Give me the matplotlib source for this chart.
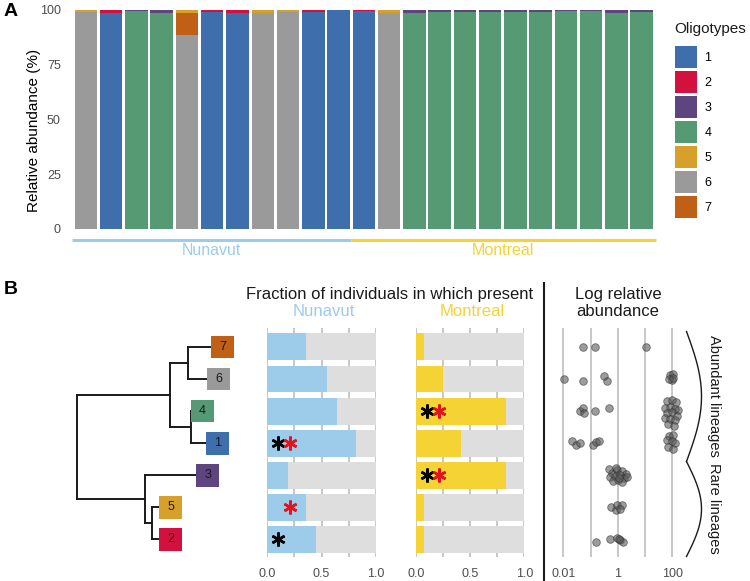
import matplotlib
matplotlib.use('Agg')
import matplotlib.pyplot as plt
from matplotlib.patches import Rectangle, Patch
import numpy as np

plt.rcParams['font.family'] = ['Liberation Sans', 'DejaVu Sans']

# ---- data: panel A, relative abundance (%) of each oligotype per individual
sites = ['Nunavut'] * 11 + ['Montreal'] * 12
o1 = [0, 98.5, 0, 0, 0, 99.2, 98.5, 0, 0, 99.0, 99.8, 99.5, 0, 0, 0, 0, 0, 0, 0, 0, 0, 0, 0]
o2 = [0, 1.5, 0, 0, 0, 0.8, 1.5, 0, 0, 1.0, 0, 0.5, 0, 0, 0, 0, 0, 0, 0, 0, 0, 0, 0]
o3 = [0, 0, 0.5, 1.2, 0, 0, 0, 0, 0, 0, 0.2, 0, 0, 1.5, 0.7, 0.7, 0.7, 0.7, 0.8, 0.6, 0.3, 1.5, 1.0]
o4 = [0, 0, 99.5, 98.8, 0, 0, 0, 0, 0, 0, 0, 0, 0, 98.5, 99.3, 99.3, 99.3, 99.3, 99.2, 99.4, 99.7, 98.5, 99.0]
o5 = [1.0, 0, 0, 0, 1.2, 0, 0, 1.4, 0.8, 0, 0, 0, 1.2, 0, 0, 0, 0, 0, 0, 0, 0, 0, 0]
o6 = [99.0, 0, 0, 0, 88.7, 0, 0, 98.6, 99.2, 0, 0, 0, 98.8, 0, 0, 0, 0, 0, 0, 0, 0, 0, 0]
o7 = [0, 0, 0, 0, 10.1, 0, 0, 0, 0, 0, 0, 0, 0, 0, 0, 0, 0, 0, 0, 0, 0, 0, 0]
abund = {'1': o1, '2': o2, '3': o3, '4': o4, '5': o5, '6': o6, '7': o7}
stack_order = ['1', '4', '6', '7', '3', '2', '5']
oligo_labels = ['1', '2', '3', '4', '5', '6', '7']
oligo_colors = {'1': '#3F6EAD', '2': '#D2113F', '3': '#5F4580', '4': '#569A74',
                '5': '#D6A02A', '6': '#9A9A9A', '7': '#C05F16'}
site_colors = {'Nunavut': '#9DCBEA', 'Montreal': '#F5D335'}

# ---- data: panel B
leaf_order = ['7', '6', '4', '1', '3', '5', '2']
leaf_depth = [134, 130, 114, 129, 119, 82, 82]
# internal nodes: (name, depth, children)
tree_nodes = [('n76', 111, ['7', '6']),
              ('n41', 114, ['4', '1']),
              ('up', 93, ['n76', 'n41']),
              ('n52', 75, ['5', '2']),
              ('low', 68, ['3', 'n52']),
              ('root', 0, ['up', 'low'])]

frac_nunavut = [0.36, 0.55, 0.64, 0.82, 0.19, 0.36, 0.45]
frac_montreal = [0.08, 0.25, 0.83, 0.42, 0.83, 0.08, 0.08]
black_star_nunavut = [0, 0, 0, 1, 0, 0, 1]
red_star_nunavut = [0, 0, 0, 1, 0, 1, 0]
black_star_montreal = [0, 0, 1, 0, 1, 0, 0]
red_star_montreal = [0, 0, 1, 0, 1, 0, 0]

# log relative abundance (%) per individual, with the vertical jitter (rows)
abund_7 = [(0.054, 0), (0.145, 0), (10.5, 0)]
abund_6 = [(0.0107, 0), (0.051, 0.05), (0.30, -0.08), (0.39, 0.05),
           (82, -0.13), (109, -0.16), (95, 0.02), (78, 0.0), (109, -0.03)]
abund_4 = [(0.041, 0.0), (0.051, -0.1), (0.057, 0.07), (0.145, 0.0), (0.48, -0.1),
           (64, -0.30), (97, -0.36), (137, -0.27), (54, -0.11), (82, -0.14),
           (126, -0.08), (162, -0.02), (64, 0.07), (97, 0.04), (149, 0.14),
           (54, 0.23), (82, 0.26), (126, 0.29), (70, 0.41), (115, 0.45)]
abund_1 = [(0.021, -0.07), (0.029, 0.07), (0.041, -0.02), (0.126, 0.07), (0.159, -0.04),
           (0.20, -0.07), (76, -0.21), (106, -0.24), (64, -0.09), (97, -0.06),
           (126, 0.0), (70, 0.13), (106, 0.19)]
abund_3 = [(0.61, -0.07), (0.94, -0.16), (1.43, -0.13), (2.0, -0.04), (0.52, 0.06),
           (0.79, 0.02), (1.2, 0.0), (1.69, 0.09), (2.1, 0.06), (0.66, 0.18),
           (1.0, 0.15), (1.43, 0.21), (0.87, -0.22), (1.1, 0.09), (0.48, -0.19)]
abund_5 = [(0.56, 0.0), (0.85, 0.07), (0.96, -0.08), (1.48, -0.06), (1.2, 0.05)]
abund_2 = [(0.155, 0.08), (0.51, 0.0), (0.95, -0.05), (1.2, 0.03), (1.5, 0.08), (1.15, 0.0)]
abund_points = [abund_7, abund_6, abund_4, abund_1, abund_3, abund_5, abund_2]

W, H = 750, 581
fig = plt.figure(figsize=(7.5, 5.81), dpi=100)


def px_axes(left, top, right, bottom):
    return fig.add_axes([left / W, 1 - bottom / H, (right - left) / W, (bottom - top) / H])


def px_text(x, y, s, **kw):
    fig.text(x / W, 1 - y / H, s, **kw)


# ---------------- panel A
axA = px_axes(72, 10, 655.6, 228.7)
x = np.arange(len(sites))
bottom = np.zeros(len(sites))
for o in stack_order:
    vals = np.array(abund[o])
    axA.bar(x, vals, bottom=bottom, width=0.89, color=oligo_colors[o], linewidth=0)
    bottom += vals
axA.set_xlim(-0.55, len(sites) - 0.45)
axA.set_ylim(0, 100)
axA.set_yticks([0, 25, 50, 75, 100])
axA.tick_params(axis='y', length=0, pad=8, labelsize=9, labelcolor='#4D4D4D')
axA.set_xticks([])
for s in axA.spines.values():
    s.set_visible(False)
axA.set_ylabel('Relative abundance (%)', fontsize=11)
axA.yaxis.set_label_coords(-0.053, 0.45)

n_nun = sites.count('Nunavut')
seg = {'Nunavut': (-0.55, n_nun - 0.5), 'Montreal': (n_nun - 0.5, len(sites) - 0.45)}
for site, (a, b) in seg.items():
    axA.plot([a, b], [-5.0, -5.0], color=site_colors[site], lw=2.2, clip_on=False,
             solid_capstyle='butt')
    axA.text((a + b) / 2, -9.8, site, color=site_colors[site], fontsize=11.5,
             ha='center', va='center', clip_on=False)

handles = [Patch(facecolor=oligo_colors[o], edgecolor='none') for o in oligo_labels]
fig.legend(handles, oligo_labels, loc='upper left',
           bbox_to_anchor=(675 / W, 1 - 46 / H), frameon=False, fontsize=9,
           handlelength=1.76, handleheight=2.33,
           labelspacing=0.24, handletextpad=0.6, borderpad=0, borderaxespad=0)
px_text(674, 29, 'Oligotypes', fontsize=11, ha='left', va='center', color='#1a1a1a')

px_text(4, 11, 'A', fontsize=14, fontweight='bold', va='center')
px_text(4, 289, 'B', fontsize=14, fontweight='bold', va='center')

# ---------------- panel B: tree
n_rows = len(leaf_order)
ylim_rows = (n_rows - 0.45, -0.59)
axT = px_axes(60, 328, 250, 557)
axT.set_xlim(-17, 173)
axT.set_ylim(*ylim_rows)
axT.axis('off')
pos = {leaf: (d, i) for i, (leaf, d) in enumerate(zip(leaf_order, leaf_depth))}
for name, depth, children in tree_nodes:
    ys = [pos[c][1] for c in children]
    axT.plot([depth, depth], [min(ys), max(ys)], color='#1a1a1a', lw=1.4,
             solid_capstyle='projecting')
    for c in children:
        axT.plot([depth, pos[c][0]], [pos[c][1], pos[c][1]], color='#1a1a1a', lw=1.4,
                 solid_capstyle='projecting')
    pos[name] = (depth, np.mean(ys))
box_w, box_h = 23, 0.71
for leaf, d in zip(leaf_order, leaf_depth):
    y = pos[leaf][1]
    axT.add_patch(Rectangle((d, y - box_h / 2), box_w, box_h, facecolor=oligo_colors[leaf],
                            edgecolor='none', zorder=3))
    axT.text(d + box_w / 2, y, leaf, ha='center', va='center', fontsize=9,
             color='#1a1a1a', zorder=4)

# ---------------- panel B: fraction bars
rows = np.arange(n_rows)


def frac_panel(left, right, fracs, color, black, red):
    ax = px_axes(left, 328, right, 557)
    for g in [0, 0.25, 0.5, 0.75, 1.0]:
        ax.axvline(g, color='#BDBDBD', lw=1.2, zorder=0)
    ax.barh(rows, [1.0] * n_rows, height=0.84, color='#DEDEDE', zorder=1, linewidth=0)
    ax.barh(rows, fracs, height=0.84, color=color, zorder=2, linewidth=0)
    for r in rows:
        if black[r]:
            ax.plot(0.1, r, marker=(6, 2, 0), ms=10, mew=1.8, color='black', zorder=3)
        if red[r]:
            ax.plot(0.21, r, marker=(6, 2, 0), ms=10, mew=1.8, color='#E3141C', zorder=3)
    ax.set_xlim(0, 1)
    ax.set_ylim(*ylim_rows)
    ax.set_xticks([0, 0.5, 1.0])
    ax.set_xticklabels(['0.0', '0.5', '1.0'])
    ax.set_yticks([])
    ax.tick_params(axis='x', length=0, pad=8, labelsize=9, labelcolor='#4D4D4D')
    for s in ax.spines.values():
        s.set_visible(False)
    return ax


frac_panel(267, 376, frac_nunavut, site_colors['Nunavut'], black_star_nunavut, red_star_nunavut)
frac_panel(415.7, 524.3, frac_montreal, site_colors['Montreal'], black_star_montreal, red_star_montreal)

px_text(390, 294, 'Fraction of individuals in which present', fontsize=12,
        ha='center', va='center', color='#1a1a1a')
px_text(324, 312, 'Nunavut', fontsize=12, ha='center', va='center', color=site_colors['Nunavut'])
px_text(472, 312, 'Montreal', fontsize=12, ha='center', va='center', color=site_colors['Montreal'])

# ---------------- panel B: log relative abundance
axL = px_axes(548, 328, 688, 557)
for g in [0.01, 0.1, 1, 10, 100]:
    axL.axvline(g, color='#C4C4C4', lw=1.3, zorder=0)
for r, pts in enumerate(abund_points):
    v = np.array([p[0] for p in pts])
    j = np.array([p[1] for p in pts])
    axL.scatter(v, r + j, s=30, facecolor='#5A5A5A', edgecolor='#2a2a2a', alpha=0.6,
                linewidths=0.6, zorder=3, clip_on=False)
axL.set_xscale('log')
axL.set_xlim(10 ** -2.561, 10 ** 2.576)
axL.set_ylim(*ylim_rows)
axL.set_xticks([0.01, 1, 100])
axL.set_xticklabels(['0.01', '1', '100'])
axL.minorticks_off()
axL.set_yticks([])
axL.tick_params(axis='x', length=0, pad=8, labelsize=9, labelcolor='#4D4D4D')
for s in axL.spines.values():
    s.set_visible(False)
px_text(618, 295, 'Log relative', fontsize=12, ha='center', va='center', color='#1a1a1a')
px_text(618, 312, 'abundance', fontsize=12, ha='center', va='center', color='#1a1a1a')

# ---------------- overlay: divider and brackets
axO = fig.add_axes([0, 0, 1, 1])
axO.set_xlim(0, W)
axO.set_ylim(H, 0)
axO.axis('off')
axO.patch.set_visible(False)
axO.plot([544, 544], [283, H], color='#1a1a1a', lw=1.5)
for (y0, y1) in [(331.5, 461.5), (461.5, 556.5)]:
    t = np.linspace(0, 1, 60)
    axO.plot(686.5 + 15 * np.sin(np.pi * t), y0 + (y1 - y0) * t, color='#1a1a1a', lw=1.0)
px_text(714, 396, 'Abundant lineages', fontsize=10.5, rotation=-90, ha='center', va='center',
        color='#1a1a1a')
px_text(714, 508, 'Rare lineages', fontsize=10.5, rotation=-90, ha='center', va='center',
        color='#1a1a1a')

fig.savefig('out.png', dpi=100)
